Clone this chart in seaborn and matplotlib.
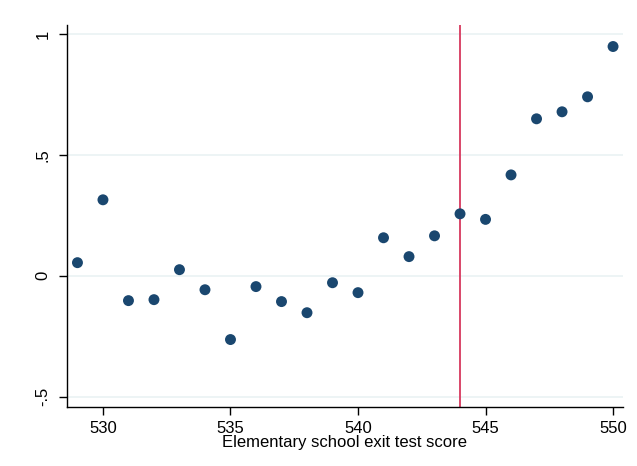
import numpy as np
import pandas as pd
import matplotlib
matplotlib.use("Agg")
import matplotlib.pyplot as plt
import seaborn as sns

# binned means
scores = [529, 530, 531, 532, 533, 534, 535, 536, 537, 538, 539,
          540, 541, 542, 543, 544, 545, 546, 547, 548, 549, 550]
values = [0.054, 0.314, -0.103, -0.099, 0.025, -0.058, -0.264, -0.045,
          -0.107, -0.153, -0.029, -0.070, 0.157, 0.079, 0.165, 0.256,
          0.233, 0.417, 0.649, 0.678, 0.740, 0.948]
cutoff = 544
xticks = [530, 535, 540, 545, 550]
yticks = [-0.5, 0, 0.5, 1]
ytick_labels = ["-.5", "0", ".5", "1"]

df = pd.DataFrame({"score": scores, "value": values})

sns.set_style("white")
plt.rcParams['font.family'] = ['Liberation Sans', 'DejaVu Sans']
plt.rcParams['text.color'] = 'black'
plt.rcParams['axes.labelcolor'] = 'black'
plt.rcParams['xtick.color'] = 'black'
plt.rcParams['ytick.color'] = 'black'

fig = plt.figure(figsize=(6.37, 4.66), dpi=100)
ax = fig.add_axes([67 / 637, 1 - 407 / 466, 556 / 637, 382 / 466])

for y in yticks:
    ax.axhline(y, color="#eaf2f3", lw=1.2, zorder=0)

ax.axvline(cutoff, color="#d7385e", lw=1.3, zorder=1)

sns.scatterplot(data=df, x="score", y="value", ax=ax, color="#1a476f",
                s=62, edgecolor="none", zorder=3)

ax.set_xlim(528.59, 550.39)
ax.set_ylim(-0.543, 1.037)
ax.set_xticks(xticks)
ax.set_xticklabels([str(t) for t in xticks])
ax.set_yticks(yticks)
ax.set_yticklabels(ytick_labels, rotation=90, va="center")
ax.tick_params(axis="both", direction="out", length=6, width=1, color="black",
               labelcolor="black", labelsize=12, pad=4, bottom=True, left=True)
ax.tick_params(axis="y", pad=6)

for side in ["top", "right"]:
    ax.spines[side].set_visible(False)
for side in ["left", "bottom"]:
    ax.spines[side].set_color("black")
    ax.spines[side].set_linewidth(1)

ax.set_xlabel("Elementary school exit test score", fontsize=12, labelpad=-1,
              color="black")
ax.set_ylabel("")

fig.savefig("out.png", dpi=100, facecolor="white")
